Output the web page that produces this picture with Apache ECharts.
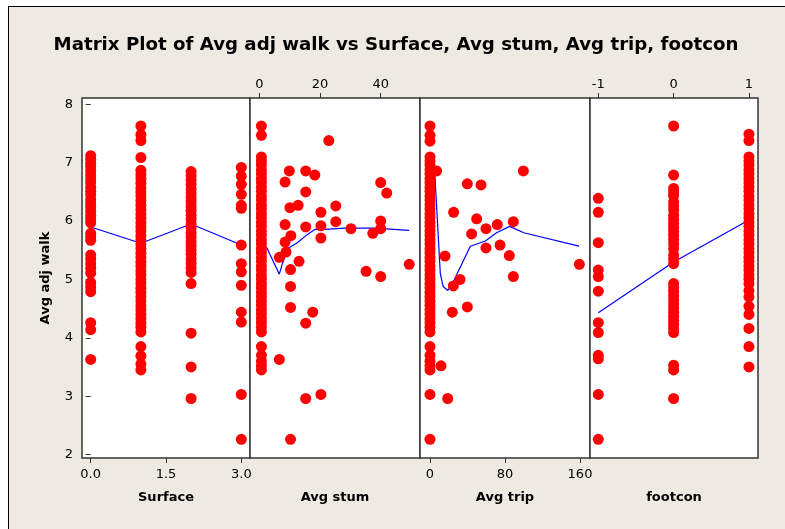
<!DOCTYPE html>
<html>
<head>
<meta charset="utf-8">
<script src="https://cdn.jsdelivr.net/npm/echarts@6/dist/echarts.min.js"></script>
<style>
  html, body { margin: 0; padding: 0; background: #ffffff; }
  #frame { position: absolute; left: 8px; top: 6px; width: 777px; height: 523px;
           background: #EEEAE1; border-left: 1px solid #000; border-top: 1px solid #000; }
  #mychart { position: absolute; left: 0; top: 0; width: 785px; height: 529px; }
</style>
</head>
<body>
<div id="frame"></div>
<div id="mychart"></div>
<script>
// Avg adj walk values per column / scattered points
const surfaceLevels = [0, 1, 2, 3];
const surface0Walk = [7.12, 7.06, 6.99, 6.93, 6.86, 6.79, 6.72, 6.66, 6.58, 6.51, 6.45, 6.37, 6.3, 6.24, 6.17, 6.1, 6.04, 5.97, 5.79, 5.73, 5.67, 5.42, 5.35, 5.27, 5.19, 5.11, 4.95, 4.87, 4.79, 4.26, 4.14, 3.63];
const surface1Walk = [7.63, 7.48, 7.38, 7.09, 6.87, 6.8, 6.73, 6.65, 6.57, 6.5, 6.43, 6.35, 6.27, 6.2, 6.12, 6.05, 5.97, 5.9, 5.83, 5.75, 5.68, 5.6, 5.53, 5.45, 5.38, 5.3, 5.23, 5.15, 5.08, 5.0, 4.93, 4.85, 4.78, 4.7, 4.63, 4.55, 4.48, 4.4, 4.33, 4.25, 4.18, 4.1, 3.85, 3.69, 3.55, 3.45];
const surface2Walk = [6.85, 6.78, 6.7, 6.63, 6.55, 6.48, 6.4, 6.33, 6.25, 6.18, 6.1, 6.03, 5.95, 5.88, 5.8, 5.73, 5.65, 5.58, 5.5, 5.43, 5.35, 5.28, 5.2, 5.12, 4.93, 4.08, 3.5, 2.96];
const surface3Walk = [6.92, 6.77, 6.63, 6.46, 6.27, 6.22, 5.59, 5.27, 5.13, 4.9, 4.44, 4.27, 3.03, 2.26];
const surfaceFit = [[0, 5.9], [1, 5.62], [2, 5.95], [3, 5.59]];

const stumZero = 0.7;
const stumZeroWalk = [7.63, 7.47, 7.1, 7.03, 6.96, 6.88, 6.81, 6.73, 6.66, 6.58, 6.51, 6.43, 6.36, 6.28, 6.21, 6.13, 6.06, 5.98, 5.91, 5.83, 5.76, 5.68, 5.61, 5.53, 5.46, 5.38, 5.31, 5.23, 5.16, 5.08, 5.01, 4.93, 4.86, 4.78, 4.71, 4.63, 4.56, 4.48, 4.41, 4.33, 4.26, 4.18, 4.1, 3.85, 3.7, 3.6, 3.52, 3.45];
const stumPoints = [[22.9, 7.38], [9.9, 6.86], [15.3, 6.86], [18.3, 6.79], [8.5, 6.67], [40, 6.66], [42, 6.48], [15.3, 6.5], [10.1, 6.23], [12.8, 6.27], [20.3, 6.15], [25.2, 6.26], [8.5, 5.94], [15.3, 5.9], [20.3, 5.92], [25.2, 5.99], [30.2, 5.87], [40, 6.0], [40, 5.87], [37.4, 5.79], [20.3, 5.71], [10.4, 5.75], [8.5, 5.64], [8.8, 5.47], [6.6, 5.38], [13.1, 5.31], [10.3, 5.17], [35.2, 5.14], [40, 5.05], [49.4, 5.26], [10.3, 4.88], [10.3, 4.52], [17.6, 4.44], [15.3, 4.25], [6.6, 3.63], [15.3, 2.96], [20.3, 3.03], [10.3, 2.26]];
const stumFit = [[0.7, 5.65], [2.6, 5.53], [6.6, 5.09], [7.6, 5.27], [9.6, 5.54], [12.3, 5.62], [15.6, 5.76], [18.4, 5.86], [21.6, 5.86], [28.2, 5.88], [38.1, 5.88], [49.4, 5.84]];

const tripZeroWalk = [7.63, 7.47, 7.37, 7.1, 7.03, 6.96, 6.88, 6.81, 6.73, 6.66, 6.58, 6.51, 6.43, 6.36, 6.28, 6.21, 6.13, 6.06, 5.98, 5.91, 5.83, 5.76, 5.68, 5.61, 5.53, 5.46, 5.38, 5.31, 5.23, 5.16, 5.08, 5.01, 4.93, 4.86, 4.78, 4.71, 4.63, 4.56, 4.48, 4.41, 4.33, 4.26, 4.18, 4.1, 3.85, 3.7, 3.6, 3.52, 3.45, 3.03, 2.26];
const tripPoints = [[7, 6.86], [99.6, 6.86], [39.8, 6.64], [54.4, 6.62], [25.2, 6.15], [49.8, 6.04], [59.7, 5.87], [71.8, 5.94], [88.9, 5.99], [44.4, 5.78], [59.7, 5.54], [74.7, 5.59], [84.6, 5.41], [16, 5.4], [159.3, 5.26], [32, 5.0], [24.9, 4.89], [88.9, 5.05], [23.8, 4.44], [39.8, 4.53], [11.7, 3.52], [18.9, 2.96]];
const tripFit = [[5, 6.85], [6, 6.83], [11, 5.1], [14, 4.88], [19, 4.81], [26, 5.0], [43, 5.57], [59, 5.66], [71, 5.8], [85, 5.91], [100, 5.8], [159, 5.57]];

const footNegWalk = [6.39, 6.15, 5.63, 5.16, 5.05, 4.8, 4.26, 4.09, 3.7, 3.64, 3.03, 2.26];
const footZeroWalk = [7.63, 6.79, 6.56, 6.5, 6.44, 6.33, 6.26, 6.19, 6.1, 6.03, 5.96, 5.89, 5.82, 5.75, 5.68, 5.61, 5.53, 5.42, 5.35, 5.27, 4.93, 4.86, 4.79, 4.72, 4.65, 4.58, 4.51, 4.44, 4.37, 4.3, 4.23, 4.16, 4.09, 3.53, 3.45, 2.96];
const footOneWalk = [7.49, 7.38, 7.1, 7.03, 6.96, 6.88, 6.81, 6.73, 6.66, 6.58, 6.51, 6.43, 6.36, 6.28, 6.21, 6.13, 6.06, 5.98, 5.91, 5.83, 5.76, 5.68, 5.61, 5.53, 5.46, 5.38, 5.31, 5.23, 5.16, 5.08, 5.01, 4.93, 4.81, 4.7, 4.54, 4.4, 4.16, 3.85, 3.5];
const footFit = [[-1, 4.43], [0, 5.3], [1, 6.02]];

const yTicks = [2, 3, 4, 5, 6, 7, 8];
const surfaceTicks = [0, 1.5, 3];
const stumTicks = [0, 20, 40];
const tripTicks = [0, 80, 160];
const footTicks = [-1, 0, 1];

const FONT = "DejaVu Sans";
const RED = "#FF0000";
const BLUE = "#0000FF";

function col(x, ys) { return ys.map(y => [x, y]); }

function dots(xi, yi, data) {
  return { type: "scatter", xAxisIndex: xi, yAxisIndex: yi, data: data,
           symbolSize: 11, itemStyle: { color: RED, opacity: 1 }, z: 3, silent: true };
}
function fit(xi, yi, data) {
  return { type: "line", xAxisIndex: xi, yAxisIndex: yi, data: data, symbol: "none",
           lineStyle: { color: BLUE, width: 1.2 }, z: 2, silent: true };
}

function xAx(grid, pos, min, max, ticks, name, fmt) {
  return {
    type: "value", gridIndex: grid, position: pos, min: min, max: max,
    name: name, nameLocation: "middle", nameGap: 33,
    nameTextStyle: { fontFamily: FONT, fontWeight: "bold", fontSize: 13, color: "#000" },
    axisLine: { show: false },
    axisTick: { show: !!ticks, customValues: ticks || [], length: 5, inside: false,
                lineStyle: { color: "#333", width: 1 } },
    axisLabel: { show: !!ticks, customValues: ticks || [], margin: pos === "top" ? 7 : 10,
                 fontFamily: FONT, fontSize: 13, color: "#000", formatter: fmt },
    splitLine: { show: false }
  };
}
function yAx(grid, main) {
  return {
    type: "value", gridIndex: grid, min: 1.94, max: 8.11,
    name: main ? "Avg adj walk" : "", nameLocation: "middle", nameGap: 30,
    nameTextStyle: { fontFamily: FONT, fontWeight: "bold", fontSize: 13, color: "#000" },
    axisLine: { show: false },
    axisTick: { show: main, customValues: yTicks, length: 5, lineStyle: { color: "#333" } },
    axisLabel: { show: main, customValues: yTicks, margin: 9, fontFamily: FONT, fontSize: 13, color: "#000" },
    splitLine: { show: false }
  };
}

const gridBase = { top: 98, height: 360, show: true, backgroundColor: "#fff", borderColor: "#333", borderWidth: 1.5 };

const option = {
  animation: false,
  backgroundColor: "transparent",
  graphic: [{
    type: "text", x: 396, y: 36,
    style: { text: "Matrix Plot of Avg adj walk vs Surface, Avg stum, Avg trip, footcon",
             align: "center", verticalAlign: "top",
             fontFamily: FONT, fontWeight: "bold", fontSize: 18.2, fill: "#000" }
  }],
  grid: [
    Object.assign({ left: 82, width: 168 }, gridBase),
    Object.assign({ left: 250, width: 170 }, gridBase),
    Object.assign({ left: 420, width: 170 }, gridBase),
    Object.assign({ left: 590, width: 168 }, gridBase)
  ],
  xAxis: [
    xAx(0, "bottom", -0.173, 3.173, surfaceTicks, "Surface", v => Number(v).toFixed(1)),
    xAx(1, "top", -3.06, 52.95, stumTicks, ""),
    xAx(2, "bottom", -10.67, 170.67, tripTicks, "Avg trip"),
    xAx(3, "top", -1.11, 1.12, footTicks, ""),
    xAx(1, "bottom", -3.06, 52.95, null, "Avg stum"),
    xAx(3, "bottom", -1.11, 1.12, null, "footcon")
  ],
  yAxis: [yAx(0, true), yAx(1, false), yAx(2, false), yAx(3, false)],
  series: [
    fit(0, 0, surfaceFit),
    dots(0, 0, col(surfaceLevels[0], surface0Walk)),
    dots(0, 0, col(surfaceLevels[1], surface1Walk)),
    dots(0, 0, col(surfaceLevels[2], surface2Walk)),
    dots(0, 0, col(surfaceLevels[3], surface3Walk)),
    fit(1, 1, stumFit),
    dots(1, 1, col(stumZero, stumZeroWalk)),
    dots(1, 1, stumPoints),
    fit(2, 2, tripFit),
    dots(2, 2, col(0, tripZeroWalk)),
    dots(2, 2, tripPoints),
    fit(3, 3, footFit),
    dots(3, 3, col(-1, footNegWalk)),
    dots(3, 3, col(0, footZeroWalk)),
    dots(3, 3, col(1, footOneWalk))
  ]
};

const myChart = echarts.init(document.getElementById("mychart"));
myChart.setOption(option);
window.addEventListener("resize", () => { myChart.resize(); });
</script>
</body>
</html>
